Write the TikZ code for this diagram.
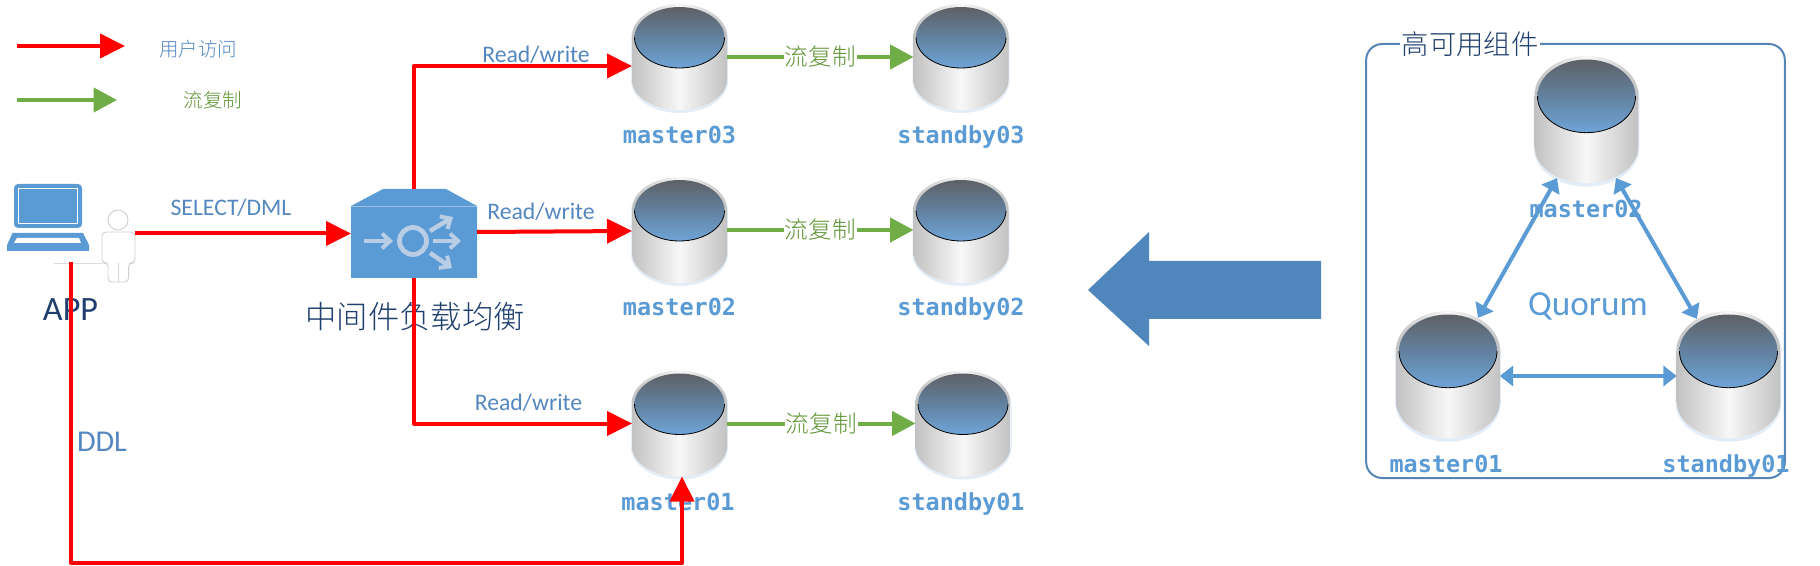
\documentclass[tikz,border=0pt]{standalone}
\usepackage{fontspec}
\setmainfont{Carlito}
\newfontfamily\cjk[UprightFont=* Light]{Noto Sans CJK SC}
\newfontfamily\monob[BoldFont=* Bold]{DejaVu Sans Mono}
\usetikzlibrary{arrows.meta,calc}
\definecolor{lblue}{HTML}{5B9BD5}
\definecolor{tblue}{HTML}{5487C0}
\definecolor{dblue}{HTML}{1F3F6E}
\definecolor{gr}{HTML}{70AD47}
\definecolor{gtxt}{HTML}{5E9434}
\definecolor{bigb}{HTML}{4F86BB}
\definecolor{boxb}{HTML}{5585B5}
\definecolor{icon}{HTML}{B9CDE5}
\definecolor{dbtop}{HTML}{5E6166}
\definecolor{dbmid}{HTML}{62819F}
\definecolor{dbbot}{HTML}{6FA5D8}
\definecolor{dbglow}{HTML}{E3EDF7}
\tikzset{
  redline/.style={draw=red,line width=3pt,line join=round,-{Triangle[length=18.75pt,width=18pt]}},
  greenline/.style={draw=gr,line width=3pt,-{Triangle[length=17.5pt,width=18pt]}},
  blueline/.style={draw=lblue,line width=3pt,{Triangle[length=10pt,width=15pt]}-{Triangle[length=10pt,width=15pt]}},
  dblabel/.style={font=\monob\bfseries\fontsize{17.6}{20}\selectfont,text=lblue,inner sep=0pt,text height=16pt,text depth=3pt},
  rw/.style={font=\fontsize{17.8}{20}\selectfont,text=tblue,inner sep=0pt},
  flow/.style={font=\cjk\fontsize{17.7}{20}\selectfont,text=gtxt,fill=white,inner sep=1pt},
  iconarrow/.style={draw=icon,line width=3.4pt,-{Straight Barb[length=6pt,width=11pt,line width=3pt]}},
  hold/.style={inner sep=0pt,outer sep=0pt},
}
% name, centre x, centre y, x scale, y scale
\newcommand{\dbcyl}[5]{%
  \node (#1) [hold,minimum width={95pt*0.75*#4},minimum height={106pt*0.75*#5}] at (#2,#3) {};
  \begin{scope}[shift={(#2,#3)},xscale=#4,yscale=#5]
    \fill[dbglow] (-48.5,-19) arc[start angle=180,end angle=360,x radius=48.5,y radius=33]
      -- (48.5,24) arc[start angle=0,end angle=180,x radius=48.5,y radius=32] -- cycle;
    \shade[left color=black!24,right color=black!24,middle color=black!3]
      (-47.5,-20) arc[start angle=180,end angle=360,x radius=47.5,y radius=33]
      -- (47.5,23) arc[start angle=0,end angle=180,x radius=47.5,y radius=30] -- cycle;
    \shade[top color=dbtop,bottom color=dbbot,middle color=dbmid]
      (0,-19.5) ellipse[x radius=45,y radius=30.5];
    \draw[black,line width=0.6pt] (-45,-19.5) arc[start angle=180,end angle=0,x radius=45,y radius=30.5];
  \end{scope}
}
\begin{document}
\begin{tikzpicture}[x=0.75pt,y=-0.75pt]
\useasboundingbox (0,0) rectangle (1820,566);
% right panel frame
\node (frame) [draw=boxb,line width=1.5pt,rounded corners=12pt,minimum width=314pt,minimum height=325.5pt,hold] at (1575.5,261) {};
\node (ftitle) [font=\cjk\fontsize{20.5}{22}\selectfont,text=dblue,fill=white,inner sep=1pt] at (1470,44) {高可用组件};
% cylinders
\dbcyl{m3}{679.5}{57}{1}{1}
\dbcyl{s3}{961}{57}{1}{1}
\dbcyl{m2}{679.5}{230}{1}{1}
\dbcyl{s2}{961}{230}{1}{1}
\dbcyl{m1}{679.5}{423.5}{1}{1}
\dbcyl{s1}{963}{423.5}{1}{1}
\dbcyl{rm2}{1586.5}{119.5}{1.09}{1.2}
\dbcyl{rm1}{1448}{374.5}{1.09}{1.2}
\dbcyl{rs1}{1728.5}{374.5}{1.09}{1.2}
% labels
\node (lm3) [dblabel] at (679.5,135) {master03};
\node (ls3) [dblabel] at (961,135) {standby03};
\node (lm2) [dblabel] at (679.5,307) {master02};
\node (ls2) [dblabel] at (961,307) {standby02};
\node (lm1) [dblabel] at (678,502) {master01};
\node (ls1) [dblabel] at (961,502) {standby01};
\node (lrm2) [dblabel] at (1586,209) {master02};
\node (lrm1) [dblabel] at (1446,464) {master01};
\node (lrs1) [dblabel] at (1726,464) {standby01};
% laptop
\node (app) [hold,minimum width=61.5pt,minimum height=50pt] at (48,217.5) {};
\fill[lblue,rounded corners=3pt] (14,228) -- (14,184) -- (82,184) -- (82,228) -- cycle;
\draw[white,line width=0.7pt] (18,188) rectangle (77.5,223);
\fill[lblue] (12.5,233) -- (83,233) -- (89,245) -- (89,251) -- (7,251) -- (7,245) -- cycle;
\fill[white] (17,238) -- (79,238) -- (81,243) -- (14,243) -- cycle;
% person
\node (user) [hold,minimum width=24.75pt,minimum height=54pt] at (118.5,246) {};
\draw[black!14,line width=0.7pt] (54,263) -- (102,263);
\draw[black!18,fill=white,line width=0.7pt] (118,220) circle[radius=10];
\draw[black!18,fill=white,line width=0.7pt,rounded corners=3pt]
  (102,263) -- (102,232) -- (135,232) -- (135,263) -- (128.6,263) -- (128.6,282) -- (108,282) -- (108,263) -- cycle;
\draw[black!18,line width=0.7pt] (118.5,263) -- (118.5,282);
% balancer
\node (lb) [hold,minimum width=94.5pt,minimum height=66.75pt] at (414,233.5) {};
\fill[lblue] (351,206) -- (383,189) -- (446,189) -- (477,206) -- (477,278) -- (351,278) -- cycle;
\draw[icon!70!lblue,line width=0.7pt] (351,206) -- (477,206);
\draw[icon,line width=3.6pt] (413,241) circle[radius=13.5];
\draw[iconarrow] (364,241) -- (393,241);
\draw[iconarrow] (433,241) -- (461,241);
\draw[iconarrow] (430,231) -- (453,217);
\draw[iconarrow] (430,253) -- (452,268);
% texts
\node (tapp) [font=\fontsize{25.6}{28}\selectfont,text=dblue,inner sep=0pt] at (70.5,310) {APP};
\node (tlb) [font=\cjk\fontsize{23.5}{26}\selectfont,text=dblue,inner sep=0pt] at (415,317) {中间件负载均衡};
\node (tddl) [font=\fontsize{22.7}{25}\selectfont,text=tblue,inner sep=0pt] at (102,442) {DDL};
\node (tsel) [rw] at (231,208) {SELECT/DML};
\node (trw3) [rw] at (536,55) {Read/write};
\node (trw2) [rw] at (541,212) {Read/write};
\node (trw1) [rw] at (528.5,403) {Read/write};
\node (tq) [font=\fontsize{26.4}{28}\selectfont,text=lblue,inner sep=0pt] at (1588,306) {Quorum};
% legend
\coordinate (lr0) at (17,46);
\coordinate (lr1) at (125,46);
\coordinate (lg0) at (17,100);
\coordinate (lg1) at (117,100);
\draw[redline] (lr0) -- (lr1);
\draw[greenline] (lg0) -- (lg1);
\node (tl1) [font=\cjk\fontsize{14.6}{16}\selectfont,text=tblue,inner sep=0pt] at (198,49) {用户访问};
\node (tl2) [font=\cjk\fontsize{14.6}{16}\selectfont,text=gtxt,inner sep=0pt] at (213,100) {流复制};
% big arrow
\fill[bigb] (1088,290) -- (1149,232) -- (1149,261) -- (1321,261) -- (1321,319) -- (1149,319) -- (1149,346) -- cycle;
% red connectors
\draw[redline] (user.east |- lb.west) -- (lb.west);
\draw[redline] (lb.north) |- ([shift={(0,9)}]m3.west);
\draw[redline] ([shift={(0,-1.5)}]lb.east) -- ([shift={(0,1)}]m2.west);
\draw[redline] (lb.south) |- (m1.west);
\coordinate (ddl0) at (71,262);
\coordinate (ddl1) at (71,563);
\draw[redline] (ddl0) -- (ddl1) -| ([shift={(2.5,0)}]m1.south);
% green connectors
\draw[greenline] (m3.east) -- node[flow,pos=0.5] (f3) {流复制} (s3.west);
\draw[greenline] (m2.east) -- node[flow,pos=0.5] (f2) {流复制} (s2.west);
\draw[greenline] (m1.east) -- node[flow,pos=0.5] (f1) {流复制} (s1.west);
% quorum connectors
\draw[blueline] ([shift={(-29.5,-5)}]rm2.south) -- ([shift={(30,7)}]rm1.north);
\draw[blueline] ([shift={(29.5,-5)}]rm2.south) -- ([shift={(-31.5,8)}]rs1.north);
\draw[blueline] ([shift={(0,1.5)}]rm1.east) -- ([shift={(0,1.5)}]rs1.west);
\end{tikzpicture}
\end{document}
